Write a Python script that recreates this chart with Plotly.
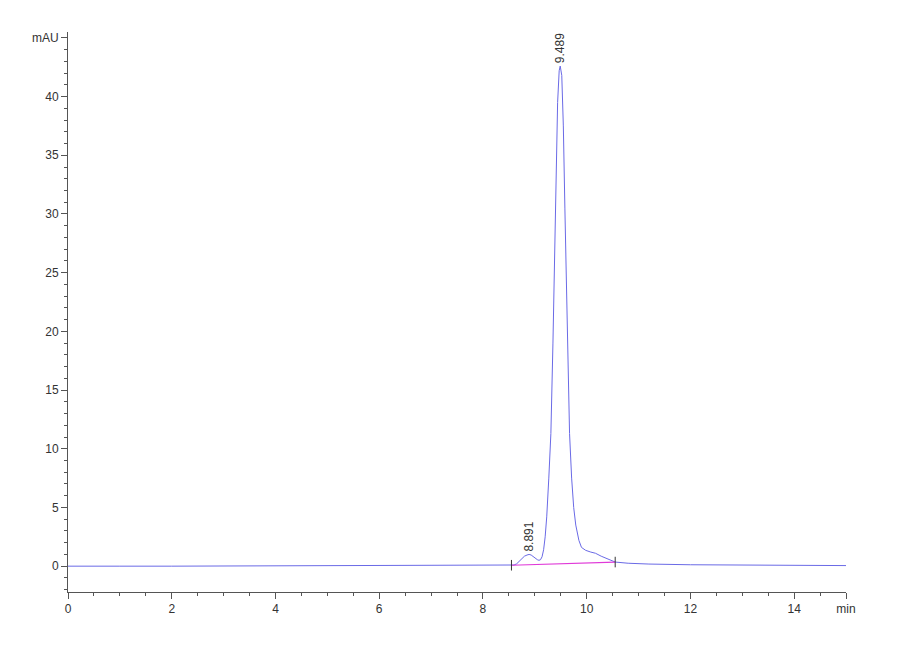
### Importing packages

import plotly.graph_objs as go

### Chromatogram readings (min, mAU)

time_min = [0.0, 0.5, 1.0, 2.0, 3.0, 4.0, 5.0, 6.0, 7.0, 8.0, 8.5, 8.6, 8.65,
            8.7, 8.75, 8.8, 8.85, 8.89, 8.93, 8.97, 9.01, 9.05, 9.08, 9.11,
            9.14, 9.17, 9.2, 9.23, 9.27, 9.31, 9.35, 9.38, 9.41, 9.44, 9.47,
            9.49, 9.52, 9.55, 9.58, 9.61, 9.64, 9.67, 9.71, 9.75, 9.79, 9.85,
            9.9, 9.98, 10.08, 10.17, 10.28, 10.4, 10.55, 10.8, 11.2, 12.0,
            13.0, 14.0, 15.0]
signal_mau = [0.0, -0.02, 0.0, 0.0, 0.01, 0.02, 0.03, 0.04, 0.05, 0.06, 0.08,
              0.1, 0.2, 0.4, 0.65, 0.85, 0.95, 1.0, 0.95, 0.8, 0.65, 0.55,
              0.5, 0.55, 0.8, 1.4, 2.5, 4.2, 7.5, 11.3, 19.0, 26.5, 34.5, 39.5,
              42.2, 42.6, 41.8, 37.5, 30.5, 23.0, 16.0, 11.3, 7.5, 5.0, 3.5,
              2.2, 1.6, 1.35, 1.2, 1.1, 0.85, 0.6, 0.35, 0.25, 0.18, 0.12,
              0.08, 0.06, 0.05]

# integration baseline and peak boundaries
base_time = [8.55, 10.55]
base_mau = [0.08, 0.35]

peak_rt = [8.891, 9.489]
peak_height = [1.0, 42.6]
peak_labels = ["8.891", "9.489"]

### Tick labels

y_tickvals = [0, 5, 10, 15, 20, 25, 30, 35, 40, 45]
y_ticktext = ["0", "5", "10", "15", "20", "25", "30", "35", "40", "mAU"]
x_tickvals = [0, 2, 4, 6, 8, 10, 12, 14, 15]
x_ticktext = ["0", "2", "4", "6", "8", "10", "12", "14", "min"]

### Convenience variables

tick_font = dict(family="Arial, Liberation Sans, sans-serif", size=12,
                 color='#333333')
axis_color = '#555555'

### Traces

trace = go.Scatter(x=time_min, y=signal_mau, mode='lines',
                   line=dict(color='#6a6ae6', width=1), hoverinfo='x+y',
                   showlegend=False)

baseline = go.Scatter(x=base_time, y=base_mau, mode='lines',
                      line=dict(color='#e03ad8', width=1.2),
                      showlegend=False, hoverinfo='skip')

# short vertical markers at the integration limits
marks = []
for t, v in zip(base_time, base_mau):
    marks.append(go.Scatter(x=[t, t], y=[v - 0.45, v + 0.45], mode='lines',
                            line=dict(color='#333333', width=1),
                            showlegend=False, hoverinfo='skip'))

### Peak labels

annotations = []
for rt, h, lab in zip(peak_rt, peak_height, peak_labels):
    annotations.append(dict(x=rt, y=h, text=lab, textangle=-90,
                            showarrow=False, yanchor='bottom',
                            xanchor='center', yshift=1,
                            font=dict(family="Arial, Liberation Sans, sans-serif",
                                      size=12, color='#333333')))

### axis parameters

xaxis = dict(range=[0, 15], showgrid=False, zeroline=False,
             showline=True, linecolor=axis_color, linewidth=1,
             ticks='outside', ticklen=6, tickcolor=axis_color,
             tickvals=x_tickvals, ticktext=x_ticktext, tickfont=tick_font,
             minor=dict(dtick=0.5, ticks='outside', ticklen=3,
                        tickcolor=axis_color, showgrid=False))

yaxis = dict(range=[-2.2, 45.5], showgrid=False, zeroline=False,
             showline=True, linecolor=axis_color, linewidth=1,
             ticks='outside', ticklen=6, tickcolor=axis_color,
             tickvals=y_tickvals, ticktext=y_ticktext, tickfont=tick_font,
             minor=dict(dtick=1, ticks='outside', ticklen=3,
                        tickcolor=axis_color, showgrid=False))

### layout

layout = go.Layout(width=900, height=660,
                   margin=dict(l=60, r=62, t=24, b=76),
                   paper_bgcolor='white', plot_bgcolor='white',
                   xaxis=xaxis, yaxis=yaxis, annotations=annotations)

fig = go.Figure(data=[trace, baseline] + marks, layout=layout)
fig.write_html("out.html")
